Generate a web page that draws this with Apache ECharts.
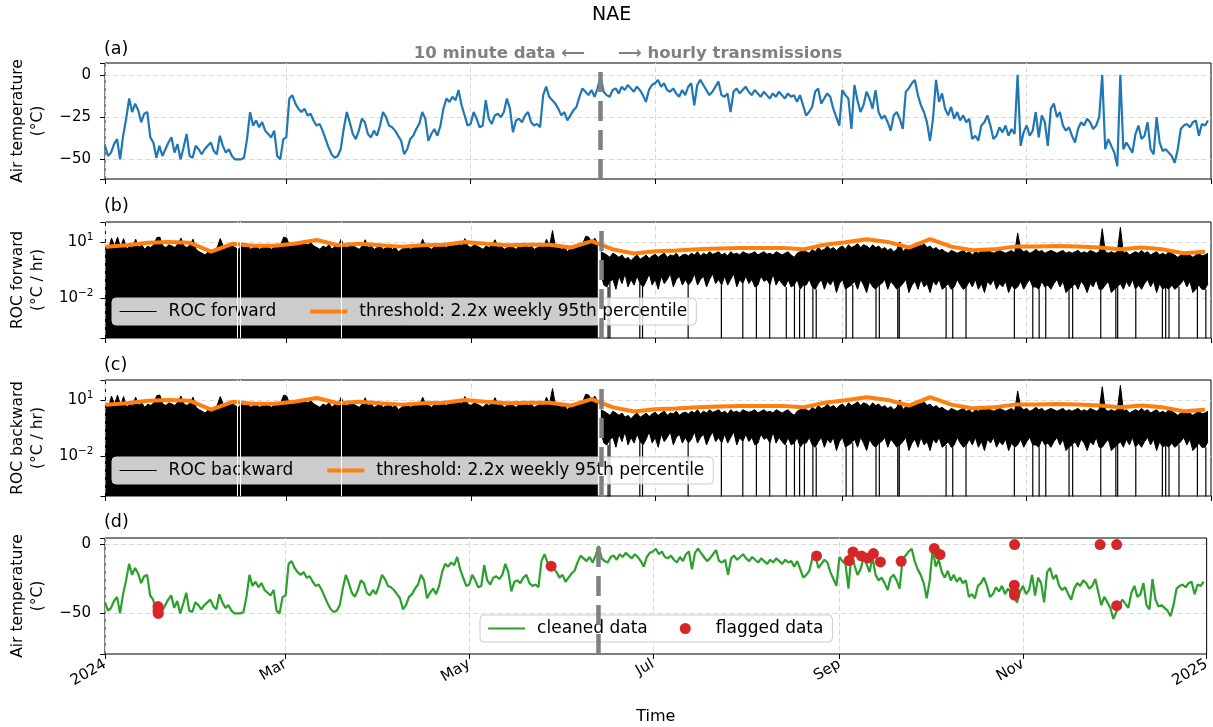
<!DOCTYPE html>
<html>
<head>
<meta charset="utf-8">
<title>NAE</title>
<script src="https://cdn.jsdelivr.net/npm/echarts@6/dist/echarts.min.js"></script>
<style>
  html, body { margin: 0; padding: 0; background: #fff; }
  #chart { width: 1213px; height: 727px; }
</style>
</head>
<body>
<div id="chart"></div>
<script>
// 时间轴：2024-01-01 起的天数
const FONT = 'DejaVu Sans';
const t0 = Date.UTC(2024, 0, 1);
const DAY = 864e5;
const toTime = d => t0 + d * DAY;

const switchDay = 164;              // 10 minute data -> hourly transmissions
const rocGapDays = [43.6, 44.6, 78.2];
const monthNames = ['Jan', 'Feb', 'Mar', 'Apr', 'May', 'Jun', 'Jul', 'Aug', 'Sep', 'Oct', 'Nov', 'Dec'];
const THR = 'threshold: 2.2x weekly 95th percentile';

// 气温（每日，day 0..365）
const tempDaily = [
  -42, -48, -46, -41, -38, -50, -36, -26, -14, -22,
  -17, -21, -28, -23, -22, -37, -40, -49, -42, -48,
  -44, -40, -37, -46, -41, -50, -43, -35, -48, -49,
  -42, -44, -47, -44, -42, -40, -45, -47, -36, -42,
  -46, -44, -48, -50, -50, -50, -49, -38, -22, -30,
  -27, -31, -28, -33, -35, -37, -33, -48, -50, -38,
  -37, -14, -12, -17, -20, -22, -20, -24, -23, -27,
  -30, -29, -33, -38, -43, -47, -49, -48, -44, -32,
  -22, -28, -35, -38, -33, -26, -28, -35, -37, -33,
  -36, -30, -22, -25, -30, -31, -33, -36, -39, -47,
  -44, -38, -36, -32, -29, -22, -26, -39, -35, -32,
  -36, -30, -20, -14, -16, -13, -15, -9, -18, -24,
  -30, -29, -22, -26, -31, -30, -15, -26, -29, -24,
  -23, -25, -22, -14, -20, -34, -27, -26, -28, -24,
  -22, -28, -30, -29, -31, -12, -7, -13, -15, -17,
  -20, -24, -22, -27, -24, -21, -19, -13, -8, -10,
  -12, -9, -13, -8, -1, -10, -12, -13, -9, -8,
  -11, -7, -9, -6, -8, -10, -7, -9, -12, -16,
  -9, -6, -5, -3, -7, -5, -9, -10, -8, -11,
  -13, -9, -12, -7, -5, -18, -6, -3, -6, -9,
  -12, -10, -7, -4, -12, -13, -11, -22, -10, -8,
  -11, -9, -7, -10, -12, -9, -11, -13, -10, -12,
  -14, -11, -13, -10, -12, -14, -11, -13, -12, -16,
  -12, -18, -24, -22, -19, -10, -8, -17, -14, -11,
  -13, -20, -25, -30, -9, -12, -14, -32, -6, -15,
  -22, -18, -10, -14, -20, -9, -22, -26, -24, -28,
  -33, -24, -22, -26, -32, -10, -8, -5, -3, -12,
  -18, -22, -28, -39, -26, -3, -16, -11, -20, -24,
  -19, -26, -22, -27, -24, -28, -26, -38, -36, -39,
  -30, -28, -24, -30, -38, -36, -31, -34, -30, -36,
  -32, -35, 0, -42, -34, -30, -36, -33, -22, -37,
  -24, -28, -42, -20, -17, -25, -22, -30, -33, -31,
  -36, -40, -32, -28, -30, -26, -28, -32, -30, -25,
  0, -44, -38, -42, -46, -54, 0, -44, -40, -43,
  -46, -35, -30, -38, -36, -28, -44, -47, -25, -40,
  -45, -44, -46, -48, -52, -44, -32, -30, -29, -31,
  -28, -27, -36, -29, -30, -27
];
const tempSpikeDays = [302, 330, 336];

// ROC 上包络（10 分钟数据段，day 0..163，°C/hr）
const rocTop10min = [
  5, 4, 16, 6, 18, 5, 15, 4, 6, 5,
  14, 5, 7, 4, 6, 5, 7, 17, 18, 6,
  5, 7, 6, 5, 8, 16, 6, 5, 7, 14,
  4, 3, 2.5, 2, 3, 2.5, 4, 5, 15, 6,
  5, 7, 6, 5, 4, 6, 5, 7, 4, 5,
  6, 4, 5, 7, 5, 4, 6, 5, 7, 18,
  16, 6, 8, 7, 9, 10, 8, 7, 9, 6,
  5, 4, 6, 5, 7, 4, 6, 5, 14, 6,
  5, 7, 6, 5, 4, 6, 13, 5, 6, 4,
  5, 6, 4, 5, 6, 4, 5, 3, 4, 5,
  6, 4, 5, 7, 5, 14, 6, 5, 4, 6,
  5, 7, 6, 5, 8, 6, 7, 9, 6, 15,
  6, 5, 7, 6, 5, 4, 6, 5, 7, 13,
  5, 6, 4, 5, 6, 5, 4, 6, 5, 7,
  5, 6, 4, 5, 6, 5, 14, 6, 40, 5,
  6, 4, 5, 3, 5, 4, 6, 7, 8, 20,
  18, 9, 16, 8
];

// ROC 每日高/低包络（小时数据段，day 164..365，°C/hr）
const rocHourlyHigh = [
  3, 2.5, 2, 1.5, 2.5, 2, 1.5, 2, 1.2, 1.5,
  1, 1.5, 2, 1.2, 1.5, 2, 1.3, 1.8, 2.2, 1.5,
  2, 2.5, 1.5, 2, 1.8, 2.5, 1.5, 2, 2.2, 1.8,
  2.5, 2, 3, 1.8, 2.5, 2, 3, 2.2, 2.5, 3,
  2, 2.5, 1.8, 3, 2.2, 2.5, 2, 3, 2.5, 2.2,
  2.5, 3, 2, 2.5, 3, 2.2, 2.5, 2, 3, 2.5,
  2, 2.5, 3, 2, 1.5, 2.5, 3, 4, 3, 2.5,
  4, 3, 5, 3.5, 4, 6, 4, 5, 3.5, 5,
  6, 4, 7, 5, 6, 8, 5, 7, 6, 4.5,
  7, 5, 6, 4, 5, 3.5, 4.5, 3, 4, 10,
  3, 4.5, 5, 6, 7, 9, 6, 8, 5, 6,
  4, 5, 3.5, 4, 3, 2.5, 3.5, 3, 2.5, 3,
  3.5, 2.5, 3, 2, 3, 2.5, 3.5, 3, 4, 3,
  2.5, 3, 3.5, 3, 2.5, 3, 3.5, 2.5, 30, 4,
  3, 3.5, 2.5, 3, 4, 3, 3.5, 2.5, 3, 3.5,
  3, 2.5, 3, 3.5, 2.5, 3, 2.5, 3, 3.5, 2.5,
  3, 2.5, 3.5, 3, 2.5, 3, 50, 3, 2.5, 3,
  2.5, 3, 60, 2.5, 3, 2, 2.5, 3, 2.5, 3.5,
  2.5, 3, 2, 2.5, 3, 2, 2.5, 2, 3, 2.5,
  2, 1.5, 2, 2.5, 1.8, 2, 1.5, 2, 2.5, 1.8,
  2, 2.5
];
const rocHourlyLow = [
  0.2, 0.05, 0.04, 0.08, 0.1, 0.03, 0.15, 0.06, 0.2, 0.04,
  0.1, 0.05, 0.15, 0.06, 0.04, 0.08, 0.2, 0.05, 0.1, 0.03,
  0.15, 0.06, 0.1, 0.2, 0.04, 0.1, 0.15, 0.05, 0.1, 0.05,
  0.08, 0.2, 0.05, 0.1, 0.15, 0.04, 0.1, 0.2, 0.06, 0.1,
  0.05, 0.15, 0.05, 0.1, 0.2, 0.04, 0.1, 0.06, 0.15, 0.06,
  0.1, 0.04, 0.05, 0.15, 0.08, 0.1, 0.05, 0.2, 0.05, 0.1,
  0.06, 0.04, 0.1, 0.04, 0.05, 0.1, 0.03, 0.05, 0.05, 0.1,
  0.04, 0.03, 0.06, 0.1, 0.03, 0.08, 0.05, 0.1, 0.02, 0.06,
  0.1, 0.03, 0.04, 0.05, 0.08, 0.03, 0.1, 0.05, 0.02, 0.08,
  0.04, 0.03, 0.05, 0.06, 0.1, 0.03, 0.08, 0.05, 0.03, 0.04,
  0.06, 0.1, 0.02, 0.05, 0.08, 0.03, 0.1, 0.04, 0.06, 0.02,
  0.08, 0.05, 0.1, 0.03, 0.04, 0.06, 0.03, 0.04, 0.1, 0.05,
  0.03, 0.04, 0.08, 0.04, 0.1, 0.03, 0.06, 0.02, 0.08, 0.05,
  0.1, 0.03, 0.06, 0.04, 0.08, 0.02, 0.05, 0.03, 0.04, 0.08,
  0.03, 0.06, 0.1, 0.04, 0.04, 0.03, 0.08, 0.04, 0.05, 0.03,
  0.06, 0.1, 0.04, 0.08, 0.02, 0.03, 0.04, 0.06, 0.03, 0.08,
  0.05, 0.02, 0.06, 0.04, 0.1, 0.03, 0.03, 0.05, 0.08, 0.02,
  0.03, 0.04, 0.06, 0.03, 0.08, 0.04, 0.1, 0.03, 0.05, 0.03,
  0.06, 0.1, 0.04, 0.08, 0.02, 0.06, 0.03, 0.04, 0.03, 0.05,
  0.03, 0.04, 0.06, 0.1, 0.04, 0.08, 0.02, 0.03, 0.05, 0.03,
  0.03, 0.06
];
// ROC 降为 0 的时刻（日）
const rocDropDays = [166.4, 167.0, 176.9, 177.8, 192.9, 203.9, 211.0, 215.5, 219.9, 225.4,
  228.1, 229.8, 231.4, 234.2, 235.3, 245.2, 247.4, 255.1, 256.2, 262.3,
  262.8, 278.3, 280.5, 284.9, 300.9, 307.0, 309.1, 311.3, 319.0, 320.2,
  329.5, 334.5, 335.1, 341.1, 349.9, 351.0, 352.1, 355.4, 361.5, 364.3];

// 阈值：每周一个点（day 0, 7, ..., 364）
const thresholdWeekly = [
  5.5, 6.6, 8.9, 10, 8.9, 3.0, 7.9, 6.3, 6.3, 8.3,
  12.6, 6.6, 7.9, 6.6, 5.6, 6.6, 7.1, 10, 7.9, 6.6,
  7.1, 7.1, 5, 11, 4, 2.4, 3.2, 3.5, 4, 4.5,
  4.8, 4.8, 4.8, 4, 7.1, 9.5, 13.8, 10, 5, 14,
  5.6, 3.6, 4, 5.6, 5.6, 6, 5.6, 5, 4, 5,
  4, 2.5, 3
];

// 被标记的数据
const flaggedDays = [17.6, 17.6, 17.7, 148.2, 236.4, 247.2, 248.5, 251.3, 253.5, 255.3,
  257.6, 264.5, 275.5, 277.4, 302.2, 302.1, 302.2, 302.15, 330.6, 336.1, 336.1];
const flaggedValues = [-45, -48, -50, -15.7, -8.2, -11.6, -5.3, -8.2, -9.7, -6.5,
  -12.6, -12.1, -2.9, -7.2, 0, -29.5, -34.8, -36.7, 0, 0, -44.4];

// 对数轴：用 log10(v) - 1，使 10^1、10^-2 落在 3 的倍数上
const LOG_SHIFT = 1;
const rocMin = -4.12 - LOG_SHIFT;
const rocMax = 2.06 - LOG_SHIFT;
const toLog = v => (v > 0 ? Math.log10(v) - LOG_SHIFT : rocMin - 3);

const tempData = tempDaily.map((v, i) => [toTime(i), v]);
const cleanedData = tempDaily.map((v, i) => [toTime(i), tempSpikeDays.includes(i) ? '-' : v]);
const roc10minData = rocTop10min.map((v, i) => [toTime(i), toLog(v)]);
// 小时段：低包络为底，高低差堆叠成黑带
const rocBandBase = rocHourlyLow.map((v, i) => [toTime(switchDay + i), toLog(v)]);
const rocBandSpan = rocHourlyHigh.map((v, i) => [toTime(switchDay + i), toLog(v) - toLog(rocHourlyLow[i])]);
const rocDropData = [];
rocDropDays.forEach(d => {
  const lo = rocHourlyLow[Math.min(rocHourlyLow.length - 1, Math.round(d) - switchDay)];
  rocDropData.push([toTime(d), toLog(lo)], [toTime(d), toLog(0)], [toTime(d), '-']);
});
const thresholdData = thresholdWeekly.map((v, i) => [toTime(i * 7), toLog(v)]);
const flaggedData = flaggedDays.map((d, i) => [toTime(d), flaggedValues[i]]);

const gridTops = [63, 222, 380, 538];
const gridHeight = 116;

const txt = (size, extra) => Object.assign({ fontFamily: FONT, fontSize: size, color: '#000', fontWeight: 'normal' }, extra || {});
const minus = v => (v < 0 ? '\u2212' + (-v) : String(v));
const gridLine = { show: true, showMinLine: false, showMaxLine: false, lineStyle: { color: '#d9d9d9', width: 1, type: [5, 3] } };
const xGridLine = { show: true, showMinLine: false, showMaxLine: false,
  lineStyle: { color: '#d9d9d9', width: 1, type: [5, 3], dashOffset: 4 } };

const xAxis = gridTops.map((_, i) => ({
  type: 'time',
  gridIndex: i,
  position: 'bottom',
  min: toTime(0),
  max: toTime(366),
  axisLine: { show: false, onZero: false },
  axisTick: { show: true, inside: false, length: 5, lineStyle: { color: '#000', width: 1 } },
  axisLabel: {
    show: i === 3,
    rotate: 30,
    margin: 9,
    showMinLabel: true,
    showMaxLabel: true,
    hideOverlap: false,
    ...txt(15),
    formatter(value) {
      const dt = new Date(value);
      const m = dt.getUTCMonth();
      return m === 0 ? String(dt.getUTCFullYear()) : monthNames[m];
    }
  },
  splitLine: xGridLine,
  name: i === 3 ? 'Time' : '',
  nameLocation: 'middle',
  nameGap: 55,
  nameTextStyle: txt(16)
}));

const yBase = (name, gap) => ({
  type: 'value',
  position: 'left',
  name,
  nameLocation: 'middle',
  nameRotate: 90,
  nameGap: gap,
  nameTextStyle: txt(15.5, { lineHeight: 20 }),
  axisLine: { show: false, onZero: false },
  axisTick: { show: true, length: 5, lineStyle: { color: '#000', width: 1 } },
  splitLine: gridLine
});

const rocLabel = {
  margin: 12,
  ...txt(15),
  formatter(v) {
    const k = Math.round(v);
    if (Math.abs(v - k) > 1e-6 || k % 3 !== 0) return '';
    return '{b|10}{s|' + minus(k + LOG_SHIFT) + '}';
  },
  rich: {
    b: txt(15),
    s: txt(10.5, { padding: [0, 0, 9, 0] })
  }
};

const yAxis = [
  Object.assign(yBase('Air temperature\n(°C)', 49), {
    gridIndex: 0, min: -61.6, max: 7.0, minInterval: 25, maxInterval: 25,
    axisLabel: { margin: 14, ...txt(15), formatter: v => (Number.isInteger(v) && v % 25 === 0 ? minus(v) : '') }
  }),
  Object.assign(yBase('ROC forward\n(°C / hr)', 52), {
    gridIndex: 1, min: rocMin, max: rocMax, minInterval: 3, maxInterval: 3, axisLabel: rocLabel
  }),
  Object.assign(yBase('ROC backward\n(°C / hr)', 52), {
    gridIndex: 2, min: rocMin, max: rocMax, minInterval: 3, maxInterval: 3, axisLabel: rocLabel
  }),
  Object.assign(yBase('Air temperature\n(°C)', 49), {
    gridIndex: 3, min: -79.5, max: 4.8, minInterval: 50, maxInterval: 50,
    axisLabel: { margin: 14, ...txt(15), formatter: v => (Number.isInteger(v) && v % 50 === 0 ? minus(v) : '') }
  })
];

const switchLine = {
  silent: true,
  symbol: 'none',
  label: { show: false },
  lineStyle: { color: '#808080', width: 4.5, type: [20, 9], opacity: 1 },
  data: [{ xAxis: toTime(switchDay) }]
};
const gapLines = {
  silent: true,
  symbol: 'none',
  label: { show: false },
  lineStyle: { color: '#fff', width: 1, type: 'solid', opacity: 1 },
  data: rocGapDays.map(d => ({ xAxis: toTime(d) }))
};

const lineBase = { type: 'line', symbol: 'none', showSymbol: false, smooth: false, animation: false };

function rocSeries(name, axis) {
  const stack = 'band' + axis;
  return [
    { ...lineBase, name, xAxisIndex: axis, yAxisIndex: axis, z: 2, data: rocDropData,
      lineStyle: { color: '#000', width: 1.2 }, itemStyle: { color: '#000' } },
    { ...lineBase, name: name + ' low', xAxisIndex: axis, yAxisIndex: axis, z: 2, data: rocBandBase,
      stack, stackStrategy: 'all', lineStyle: { color: '#000', width: 1 } },
    { ...lineBase, name, xAxisIndex: axis, yAxisIndex: axis, z: 2, data: rocBandSpan,
      stack, stackStrategy: 'all', lineStyle: { color: '#000', width: 1 },
      areaStyle: { color: '#000', opacity: 1 } },
    { ...lineBase, name, xAxisIndex: axis, yAxisIndex: axis, z: 2, data: roc10minData,
      lineStyle: { color: '#000', width: 1 }, itemStyle: { color: '#000' },
      areaStyle: { color: '#000', opacity: 1, origin: 'start' }, markLine: gapLines },
    { ...lineBase, name: THR, xAxisIndex: axis, yAxisIndex: axis, z: 3, data: thresholdData,
      lineStyle: { color: '#ff7f0e', width: 4 }, itemStyle: { color: '#ff7f0e' }, markLine: switchLine }
  ];
}

const series = [
  { ...lineBase, name: 'Air temperature', xAxisIndex: 0, yAxisIndex: 0, data: tempData,
    lineStyle: { color: '#1f77b4', width: 2.2 }, itemStyle: { color: '#1f77b4' }, markLine: switchLine },
  ...rocSeries('ROC forward', 1),
  ...rocSeries('ROC backward', 2),
  { ...lineBase, name: 'cleaned data', xAxisIndex: 3, yAxisIndex: 3, data: cleanedData, connectNulls: true,
    lineStyle: { color: '#2ca02c', width: 2.2 }, itemStyle: { color: '#2ca02c' }, markLine: switchLine },
  { type: 'scatter', name: 'flagged data', xAxisIndex: 3, yAxisIndex: 3, z: 4, data: flaggedData,
    symbolSize: 11, itemStyle: { color: '#d62728', opacity: 1 }, animation: false }
];

// 图例：线条图标不画中间的圆点
const legendBase = {
  orient: 'horizontal',
  selectedMode: false,
  backgroundColor: 'rgba(255,255,255,0.8)',
  borderColor: '#cccccc',
  borderWidth: 1,
  borderRadius: 4,
  padding: [5, 9, 5, 7],
  itemGap: 32,
  itemWidth: 37,
  itemHeight: 14,
  itemStyle: { opacity: 0 },
  textStyle: txt(17, { padding: [0, 0, 0, 7] })
};
const thrItem = { name: THR, lineStyle: { width: 4 } };

const titleBase = (text, pos, style) => Object.assign({ text, padding: 0, textStyle: style }, pos);

const option = {
  animation: false,
  useUTC: true,
  backgroundColor: '#fff',
  title: [
    titleBase('NAE', { left: 592, top: 6 }, txt(19)),
    titleBase('(a)', { left: 104, top: 40 }, txt(17.5)),
    titleBase('(b)', { left: 104, top: 197 }, txt(17.5)),
    titleBase('(c)', { left: 104, top: 356 }, txt(17.5)),
    titleBase('(d)', { left: 104, top: 513 }, txt(17.5)),
    titleBase('10 minute data \u27F5', { right: 628, top: 45 }, txt(16.5, { fontWeight: 'bold', color: '#808080' })),
    titleBase('\u27F6 hourly transmissions', { left: 618, top: 45 }, txt(16.5, { fontWeight: 'bold', color: '#808080' }))
  ],
  grid: gridTops.map(top => ({
    left: 105, right: 2, top, height: gridHeight,
    show: true, borderColor: '#000', borderWidth: 1, backgroundColor: 'transparent'
  })),
  xAxis,
  yAxis,
  legend: [
    { ...legendBase, left: 112, top: 298, data: [{ name: 'ROC forward', lineStyle: { width: 1.2 } }, thrItem] },
    { ...legendBase, left: 112, top: 457, data: [{ name: 'ROC backward', lineStyle: { width: 1.2 } }, thrItem] },
    { ...legendBase, left: 480, top: 615, itemHeight: 11,
      data: [{ name: 'cleaned data', lineStyle: { width: 2.2 } }, { name: 'flagged data', itemStyle: { opacity: 1 } }] }
  ],
  series
};

const myChart = echarts.init(document.getElementById('chart'), null, { renderer: 'canvas' });
myChart.setOption(option);
</script>
</body>
</html>
